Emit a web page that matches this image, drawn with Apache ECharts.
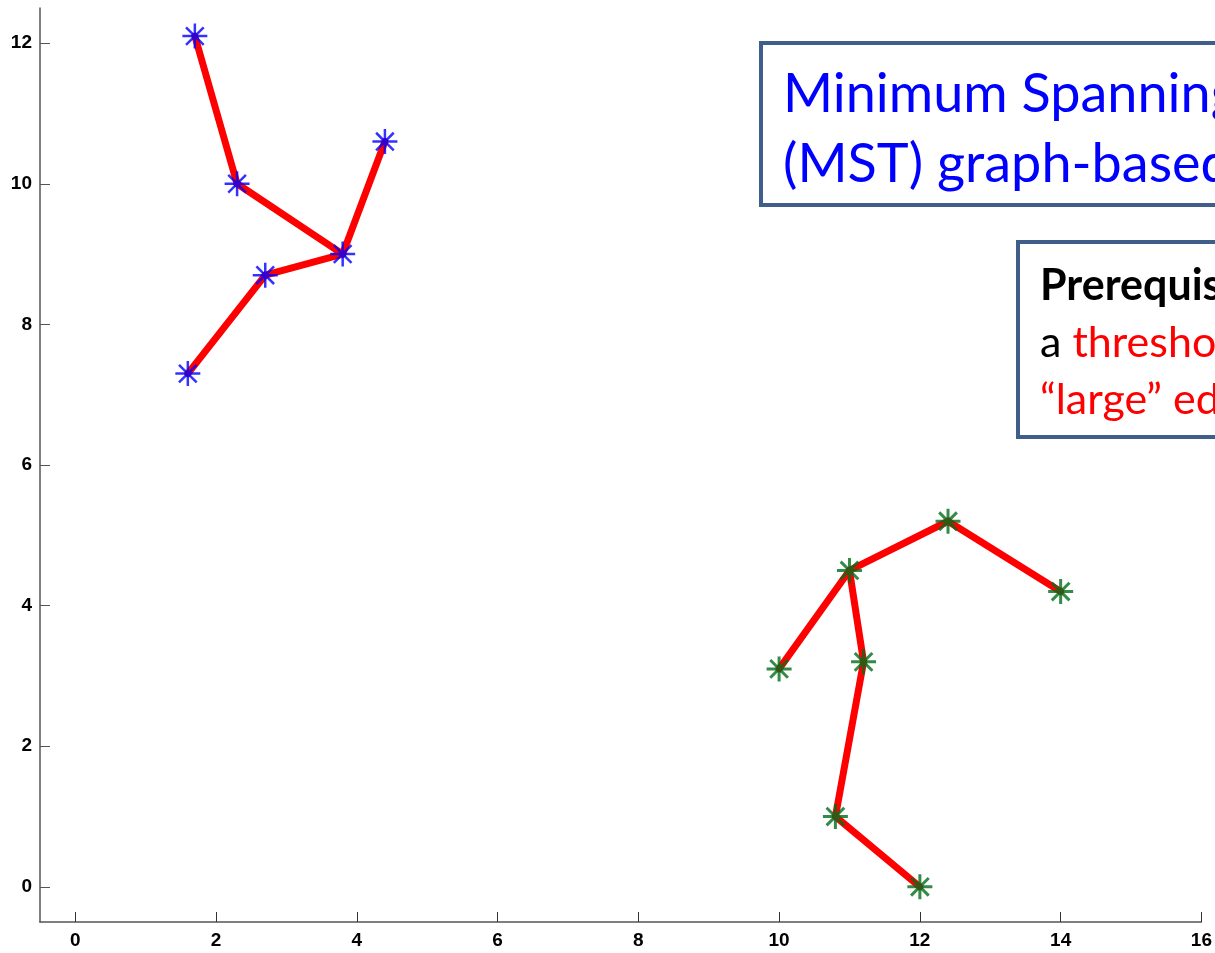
<!DOCTYPE html>
<html>
<head>
    <meta charset="utf-8">
    <title>MST clustering</title>
    <script src="https://cdn.jsdelivr.net/npm/echarts@6/dist/echarts.min.js"></script>
    <style>
        html, body { margin: 0; padding: 0; background: #fff; }
    </style>
</head>
<body>
    <div id="main" style="width: 1215px;height:953px;"></div>
    <script type="text/javascript">
        // points of the two clusters
        var blueNodes = [[1.7, 12.1], [2.3, 10.0], [3.8, 9.0], [4.4, 10.6], [2.7, 8.7], [1.6, 7.3]];
        var greenNodes = [[10.0, 3.1], [11.0, 4.5], [12.4, 5.2], [14.0, 4.2], [11.2, 3.2], [10.8, 1.0], [12.0, 0.0]];
        // MST edges (index pairs)
        var blueEdges = [[0, 1], [1, 2], [2, 3], [2, 4], [4, 5]];
        var greenEdges = [[0, 1], [1, 2], [2, 3], [1, 4], [4, 5], [5, 6]];
        var xTicks = [0, 2, 4, 6, 8, 10, 12, 14, 16];
        var yTicks = [0, 2, 4, 6, 8, 10, 12];

        var star = 'path://M0,-10L0,10M-10,0L10,0M-7.07,-7.07L7.07,7.07M-7.07,7.07L7.07,-7.07';

        function edgeData(nodes, edges) {
            return edges.map(function (e) {
                return { coords: [nodes[e[0]], nodes[e[1]]] };
            });
        }

        var myChart = echarts.init(document.getElementById('main'));

        var axisFont = { fontFamily: 'Liberation Sans', fontWeight: 'bold', fontSize: 19, color: '#000' };

        var option = {
            animation: false,
            backgroundColor: '#fff',
            grid: { left: 40, top: 8, width: 1162, height: 914 },
            xAxis: {
                type: 'value', min: -0.5, max: 16,
                axisLine: { show: true, onZero: false, lineStyle: { color: '#555', width: 1.5 } },
                axisTick: { show: true, inside: true, length: 10, customValues: xTicks, lineStyle: { color: '#333' } },
                axisLabel: Object.assign({ customValues: xTicks, margin: 9 }, axisFont),
                splitLine: { show: false }
            },
            yAxis: {
                type: 'value', min: -0.5, max: 12.5,
                axisLine: { show: true, onZero: false, lineStyle: { color: '#555', width: 1.5 } },
                axisTick: { show: true, inside: true, length: 10, customValues: yTicks, lineStyle: { color: '#555' } },
                axisLabel: Object.assign({ customValues: yTicks, margin: 8 }, axisFont),
                splitLine: { show: false }
            },
            series: [
                {
                    type: 'lines', coordinateSystem: 'cartesian2d', z: 1,
                    lineStyle: { color: '#ff0000', width: 7, opacity: 1, cap: 'round' },
                    data: edgeData(blueNodes, blueEdges).concat(edgeData(greenNodes, greenEdges))
                },
                {
                    type: 'scatter', z: 3, data: blueNodes, symbol: star, symbolSize: 25,
                    itemStyle: { color: 'transparent', borderColor: '#0000ff', borderWidth: 2.5 }
                },
                {
                    type: 'scatter', z: 3, data: greenNodes, symbol: star, symbolSize: 25,
                    itemStyle: { color: 'transparent', borderColor: '#006e1a', borderWidth: 3 }
                }
            ],
            graphic: [
                {
                    type: 'rect', z: 10,
                    shape: { x: 761, y: 43, width: 520, height: 162 },
                    style: { fill: '#fff', stroke: '#3f5f8a', lineWidth: 4 }
                },
                {
                    type: 'text', z: 11, x: 783, y: 60,
                    style: {
                        text: 'Minimum Spanning Tree\n(MST) graph-based clustering',
                        fill: '#0000ff', font: '54px Lato', lineHeight: 70
                    }
                },
                {
                    type: 'rect', z: 10,
                    shape: { x: 1018, y: 242, width: 400, height: 195 },
                    style: { fill: '#fff', stroke: '#3f5f8a', lineWidth: 4 }
                },
                {
                    type: 'text', z: 11, x: 1040, y: 258,
                    style: {
                        text: '{b|Prerequisite:}\n{k|a }{r|threshold for}\n{r|\u201clarge\u201d edges}',
                        rich: {
                            b: { font: 'bold 43px Lato', fill: '#000', lineHeight: 57 },
                            k: { font: '43px Lato', fill: '#000', lineHeight: 57 },
                            r: { font: '43px Lato', fill: '#ff0000', lineHeight: 57 }
                        }
                    }
                }
            ]
        };

        myChart.setOption(option);
    </script>
</body>
</html>
